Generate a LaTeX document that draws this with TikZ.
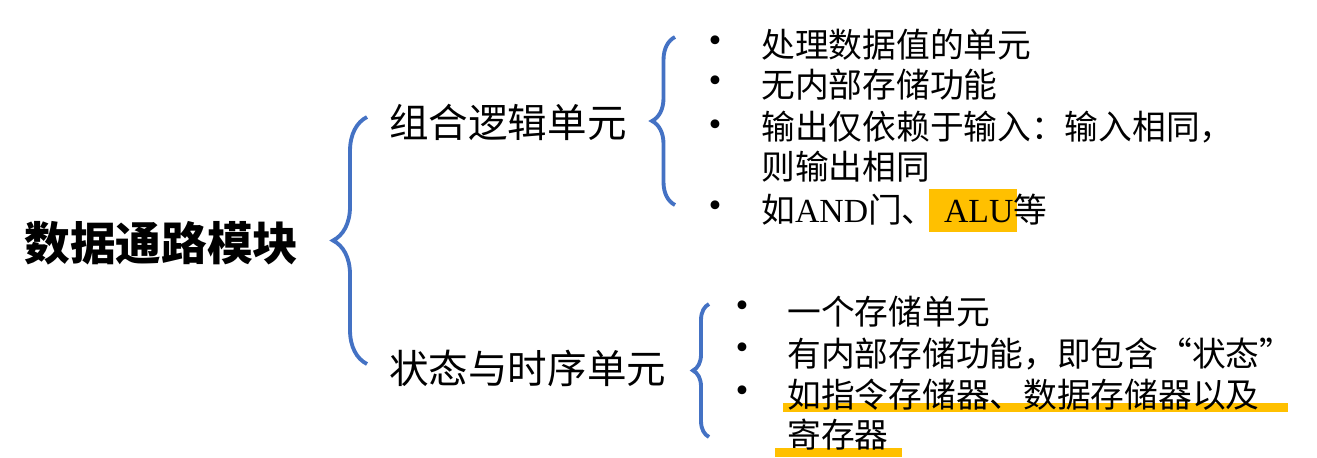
\documentclass[tikz,border=0pt]{standalone}
\usepackage{fontspec}
\setmainfont{Liberation Serif}
\newfontfamily\cjk{Noto Sans CJK SC}
\usepackage{tikz}
\usetikzlibrary{decorations.pathreplacing}
\definecolor{bracec}{HTML}{4472C4}
\definecolor{markc}{HTML}{FFC000}

\begin{document}
\begin{tikzpicture}[x=0.02cm, y=-0.02cm,
    bracec/.style={draw=bracec, line width=2.2pt, decorate,
      decoration={brace, amplitude=#1}},
    txt/.style={anchor=west, inner sep=0pt},
    headc/.style={txt, text height=22.4pt, text depth=2.6pt,
      font=\cjk\bfseries\fontsize{26}{30}\selectfont},
    groupc/.style={txt, text height=19.35pt, text depth=2.25pt,
      font=\cjk\fontsize{22.5}{26}\selectfont},
    itemc/.style={txt, text height=16.5pt, text depth=1.9pt,
      font=\cjk\fontsize{19.2}{23}\selectfont},
    bulc/.style={inner sep=0pt, font=\fontsize{21}{25}\selectfont}]
  \useasboundingbox (0,0) rectangle (1317,457);
  \fill[markc] (929,189) rectangle (1017,232);
  \fill[markc] (783,403) rectangle (1288,412);
  \fill[markc] (775,448) rectangle (902,457);
  \node[headc] (head) at (24,243) {数据通路模块};
  \node[groupc] (comb) at (389,122) {组合逻辑单元};
  \node[groupc] (seq) at (389,368) {状态与时序单元};
  \coordinate (b1s) at (367,364);
  \coordinate (b1e) at (367,117);
  \draw[bracec=0.68cm] (b1s) -- (b1e);
  \coordinate (b2s) at (675,205);
  \coordinate (b2e) at (675,37);
  \draw[bracec=0.46cm] (b2s) -- (b2e);
  \coordinate (b3s) at (709,437);
  \coordinate (b3e) at (709,304);
  \draw[bracec=0.32cm] (b3s) -- (b3e);
  \node[bulc] (u1) at (715,44) {\textbullet};
  \node[bulc] (u2) at (715,84) {\textbullet};
  \node[bulc] (u3) at (715,128) {\textbullet};
  \node[bulc] (u4) at (715,209) {\textbullet};
  \node[itemc] (i1) at (761,45) {处理数据值的单元};
  \node[itemc] (i2) at (761,85) {无内部存储功能};
  \node[itemc] (i3) at (761,127) {输出仅依赖于输入：输入相同，};
  \node[itemc] (i3b) at (761,167) {则输出相同};
  \node[itemc] (i4) at (761,210) {如{\rmfamily AND}门、{\rmfamily\ ALU}等};
  \node[bulc] (v1) at (742,309) {\textbullet};
  \node[bulc] (v2) at (742,351) {\textbullet};
  \node[bulc] (v3) at (742,394) {\textbullet};
  \node[itemc] (j1) at (787,312) {一个存储单元};
  \node[itemc] (j2) at (787,354) {有内部存储功能，即包含“状态”};
  \node[itemc] (j3) at (787,395) {如指令存储器、数据存储器以及};
  \node[itemc] (j3b) at (787,435) {寄存器};
\end{tikzpicture}
\end{document}
